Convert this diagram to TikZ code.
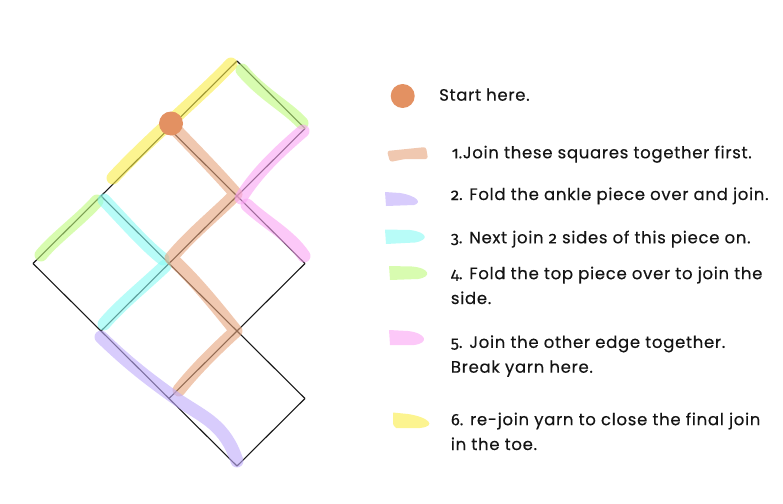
\documentclass[tikz,border=0pt]{standalone}
\usepackage{fontspec}
\setmainfont[LetterSpace=4.3,FakeBold=0.35]{Poppins}
\newfontfamily\numf[Numbers=OldStyle,FakeBold=0.2]{Fira Sans}
\newcommand\nm[1]{{\numf #1}}
\definecolor{dotc}{RGB}{227,145,98}
\definecolor{salmonb}{RGB}{230,163,123}
\definecolor{purpleb}{RGB}{190,170,250}
\definecolor{cyanb}{RGB}{137,250,243}
\definecolor{greenb}{RGB}{190,250,123}
\definecolor{pinkb}{RGB}{250,163,243}
\definecolor{yellowb}{RGB}{250,237,70}
\definecolor{salmonl}{RGB}{240,200,176}
\definecolor{purplel}{RGB}{216,204,252}
\definecolor{cyanl}{RGB}{184,252,248}
\definecolor{greenl}{RGB}{216,252,176}
\definecolor{pinkl}{RGB}{252,200,248}
\definecolor{yellowl}{RGB}{252,244,144}
\begin{document}
\begin{tikzpicture}[x=1pt,y=-1pt,
  edge/.style={draw=black!90,line width=1.1pt},
  hl/.style={line width=13pt,line cap=round,line join=round,opacity=0.6},
  swatch/.style={rounded corners=2.5pt},
  legtext/.style={anchor=base west,inner sep=0pt,font=\fontsize{16.5}{24.8}\selectfont,align=left,text=black!92}]
\useasboundingbox (0,0) rectangle (783,503);
% grid points
\foreach \u in {0,1,2,3}{\foreach \v in {0,1,2,3}{
  \coordinate (p\u\v) at ({237+68*(\u-\v)},{61+67.5*(\u+\v)});}}
% black edges
\draw[edge] (p00) -- (p03);
\draw[edge] (p10) -- (p13);
\draw[edge] (p21) -- (p23);
\draw[edge] (p32) -- (p33);
\draw[edge] (p00) -- (p10);
\draw[edge] (p01) -- (p21);
\draw[edge] (p02) -- (p32);
\draw[edge] (p03) -- (p33);
% highlights
\draw[hl,yellowb] (231,64) .. controls (205,92) and (150,138) .. (113,178);
\draw[hl,greenb] (242,70) .. controls (262,94) and (286,106) .. (302,123);
\draw[hl,greenb] (97,201) .. controls (80,220) and (55,238) .. (41,255);
\draw[hl,cyanb] (104,200) .. controls (125,222) and (145,245) .. (163,259);
\draw[hl,cyanb] (165,266) .. controls (145,285) and (120,305) .. (104,324);
\draw[hl,salmonb] (175,129) .. controls (195,150) and (215,170) .. (236,194)
  .. controls (215,215) and (190,235) .. (171,258)
  .. controls (195,280) and (215,305) .. (236,331)
  .. controls (215,350) and (195,370) .. (179,390);
\draw[hl,purpleb] (101,337) .. controls (130,365) and (150,380) .. (178,400)
  .. controls (205,418) and (225,425) .. (237,461);
\draw[hl,pinkb] (303,131) .. controls (275,155) and (255,175) .. (241,198);
\draw[hl,pinkb] (247,205) .. controls (265,222) and (290,235) .. (304,256);
% start dot
\fill[dotc] (p01) ++(2,-5) coordinate (dotc) circle (12);
% legend swatches
\fill[dotc] (402.7,96) circle (12);
\fill[salmonl,swatch] (387,151) -- (426,147) -- (428,159) -- (405,159) -- (390,162) -- cycle;
\fill[purplel] (385,192) -- (400,193) .. controls (418,196) and (422,203) .. (414,205) -- (386,206) -- cycle;
\fill[cyanl] (385,229.5) -- (410,230) .. controls (427,232) and (430,240) .. (415,242.5) -- (386,244) -- cycle;
\fill[greenl] (389,266) -- (412,266.5) .. controls (430,268) and (432,277) .. (418,279) -- (390,280) -- cycle;
\fill[pinkl] (389,330) -- (408,331) .. controls (426,333) and (430,343) .. (414,345) -- (390,345) -- cycle;
\fill[yellowl] (393,412.5) -- (408,414) .. controls (428,417) and (438,426) .. (420,428) -- (396,428) .. controls (393,425) .. (393,420) -- cycle;
% legend texts
\node[legtext] (t0) at (439,100.7) {Start here.};
\node[legtext] (t1) at (451.5,158.3) {\nm{1}.Join these squares together first.};
\node[legtext] (t2) at (450.7,200) {\nm{2}. Fold the ankle piece over and join.};
\node[legtext] (t3) at (450.7,243.3) {\nm{3}. Next join \nm{2} sides of this piece on.};
\node[legtext] (t4) at (450.7,304) {\nm{4}. Fold the top piece over to join the\\side.};
\node[legtext] (t5) at (450.7,372.7) {\nm{5}. Join the other edge together.\\Break yarn here.};
\node[legtext] (t6) at (450.7,450) {\nm{6}. re-join yarn to close the final join\\in the toe.};
\end{tikzpicture}
\end{document}
